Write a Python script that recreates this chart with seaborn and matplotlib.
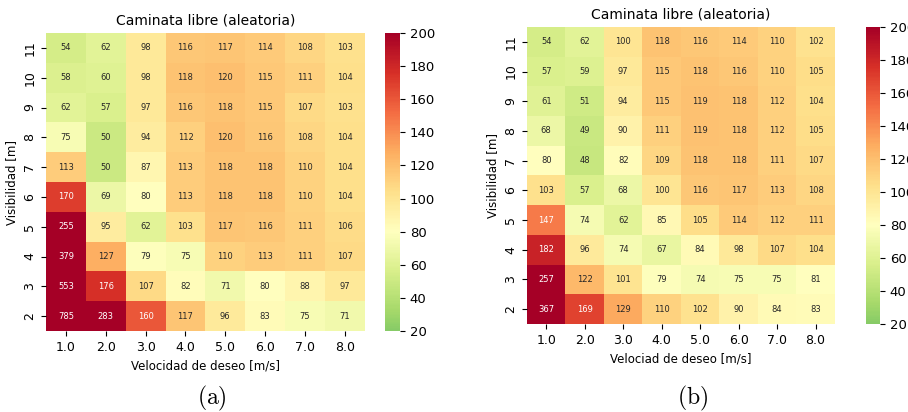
import numpy as np
import pandas as pd
import matplotlib
matplotlib.use("Agg")
import matplotlib.pyplot as plt
import seaborn as sns

plt.rcParams["mathtext.fontset"] = "cm"

velocidades = ["1.0", "2.0", "3.0", "4.0", "5.0", "6.0", "7.0", "8.0"]
visibilidades = [11, 10, 9, 8, 7, 6, 5, 4, 3, 2]

valores_a = [
    [54, 62, 98, 116, 117, 114, 108, 103],
    [58, 60, 98, 118, 120, 115, 111, 104],
    [62, 57, 97, 116, 118, 115, 107, 103],
    [75, 50, 94, 112, 120, 116, 108, 104],
    [113, 50, 87, 113, 118, 118, 110, 104],
    [170, 69, 80, 113, 118, 118, 110, 104],
    [255, 95, 62, 103, 117, 116, 111, 106],
    [379, 127, 79, 75, 110, 113, 111, 107],
    [553, 176, 107, 82, 71, 80, 88, 97],
    [785, 283, 160, 117, 96, 83, 75, 71],
]

valores_b = [
    [54, 62, 100, 118, 116, 114, 110, 102],
    [57, 59, 97, 115, 118, 116, 110, 105],
    [61, 51, 94, 115, 119, 118, 112, 104],
    [68, 49, 90, 111, 119, 118, 112, 105],
    [80, 48, 82, 109, 118, 118, 111, 107],
    [103, 57, 68, 100, 116, 117, 113, 108],
    [147, 74, 62, 85, 105, 114, 112, 111],
    [182, 96, 74, 67, 84, 98, 107, 104],
    [257, 122, 101, 79, 74, 75, 75, 81],
    [367, 169, 129, 110, 102, 90, 84, 83],
]

titulo = "Caminata libre (aleatoria)"
xlabel_a = "Velocidad de deseo [m/s]"
xlabel_b = "Velociad de deseo [m/s]"
ylabel = "Visibilidad [m]"
cbar_ticks = [20, 40, 60, 80, 100, 120, 140, 160, 180, 200]

fig = plt.figure(figsize=(9.08, 4.12), dpi=100)

ax_a = fig.add_axes([0.0507, 0.1966, 0.351, 0.7233])
cax_a = fig.add_axes([0.424, 0.1966, 0.0165, 0.7233])
ax_b = fig.add_axes([0.5804, 0.2136, 0.339, 0.721])
cax_b = fig.add_axes([0.9537, 0.2136, 0.0155, 0.721])

for ax, cax, vals, xl in [
    (ax_a, cax_a, valores_a, xlabel_a),
    (ax_b, cax_b, valores_b, xlabel_b),
]:
    df = pd.DataFrame(vals, index=visibilidades, columns=velocidades)
    sns.heatmap(df, ax=ax, cbar_ax=cax, cmap="RdYlGn_r", vmin=20, vmax=200,
                center=80, annot=True, fmt="d", annot_kws={"fontsize": 6})
    ax.set_title(titulo, fontsize=10)
    ax.set_xlabel(xl, fontsize=8.5)
    ax.set_ylabel(ylabel, fontsize=8.5)
    ax.tick_params(axis="both", labelsize=9)
    plt.setp(ax.get_yticklabels(), rotation=90, va="center")
    plt.setp(ax.get_xticklabels(), rotation=0)
    cax.set_yticks(cbar_ticks)
    cax.tick_params(labelsize=9.5)

fig.text(0.2335, 0.034, r"$\mathrm{(a)}$", fontsize=17, ha="center", va="center")
fig.text(0.763, 0.034, r"$\mathrm{(b)}$", fontsize=17, ha="center", va="center")

fig.savefig("out.png", dpi=100)
